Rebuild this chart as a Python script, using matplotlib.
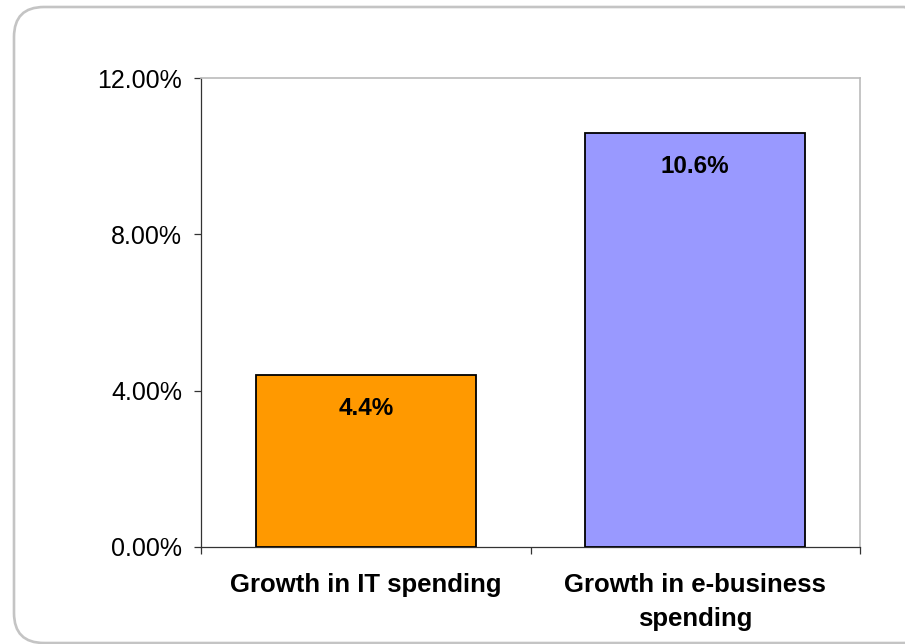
import matplotlib
matplotlib.use('Agg')
import matplotlib.pyplot as plt
from matplotlib.patches import FancyBboxPatch
from matplotlib.transforms import IdentityTransform
from matplotlib.ticker import FuncFormatter, FixedLocator

categories = ['Growth in IT spending', 'Growth in e-business\nspending']
values = [4.4, 10.6]
value_labels = ['4.4%', '10.6%']
y_ticks = [0, 4, 8, 12]

bar_colors = ['#FF9900', '#9999FF']

plt.rcParams['font.family'] = ['Liberation Sans', 'DejaVu Sans']
fontsize = 17.5

fig = plt.figure(figsize=(9.05, 6.44), dpi=100)
ax = fig.add_axes([201 / 905, 1 - 547 / 644, 659 / 905, 469 / 644])

# rounded frame around the whole chart
frame = FancyBboxPatch(
    (14, 1), 920, 636,
    boxstyle='round,pad=0,rounding_size=30',
    transform=IdentityTransform(),
    facecolor='none', edgecolor='#C4C4C4', linewidth=1.9,
)
fig.patches.append(frame)

x = range(len(categories))
ax.bar(x, values, width=0.667, color=bar_colors, edgecolor='black',
       linewidth=1.3, zorder=3)

for xi, v, lab in zip(x, values, value_labels):
    ax.annotate(lab, (xi, v), xytext=(0, -16), textcoords='offset points',
                ha='center', va='top', fontsize=fontsize, fontweight='bold')

ax.set_xlim(-0.5, 1.5)
ax.set_ylim(0, 12)

ax.yaxis.set_major_locator(FixedLocator(y_ticks))
ax.yaxis.set_major_formatter(FuncFormatter(lambda v, p: f'{v:.2f}%'))
ax.tick_params(axis='y', direction='out', length=5, width=0.9,
               color='#333333', labelsize=fontsize + 0.5, pad=8.5)

# category separators as ticks, labels centred between them
ax.set_xticks([-0.5, 0.5, 1.5])
ax.set_xticklabels([])
ax.set_xticks(list(x), minor=True)
ax.set_xticklabels(categories, minor=True, fontsize=18.5,
                   fontweight='bold', linespacing=1.5)
ax.tick_params(axis='x', which='major', direction='out', length=5,
               width=0.9, color='#333333')
ax.tick_params(axis='x', which='minor', length=0, pad=19)

for side in ['left', 'bottom']:
    ax.spines[side].set_color('#333333')
    ax.spines[side].set_linewidth(0.9)
for side in ['top', 'right']:
    ax.spines[side].set_color('#BBBBBB')
    ax.spines[side].set_linewidth(1.2)

fig.savefig('out.png', dpi=100)
